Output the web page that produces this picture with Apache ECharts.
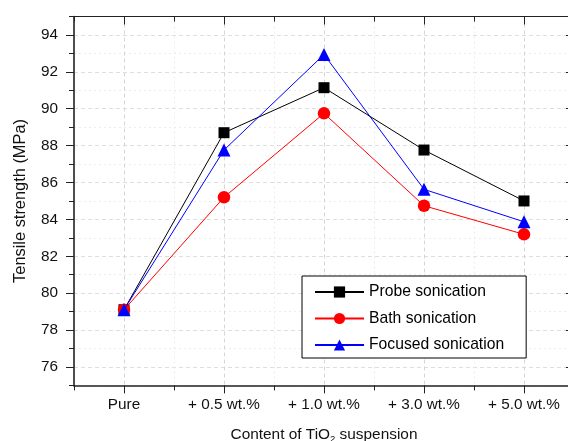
<!DOCTYPE html>
<html>
<head>
<meta charset="utf-8">
<script src="https://cdn.jsdelivr.net/npm/echarts@6/dist/echarts.min.js"></script>
<style>
  html, body { margin: 0; padding: 0; background: #fff; }
  #main { width: 568px; height: 441px; }
</style>
</head>
<body>
<div id="main"></div>
<script>
// data
const categories = ['Pure', '+ 0.5 wt.%', '+ 1.0 wt.%', '+ 3.0 wt.%', '+ 5.0 wt.%'];
const xPos = [1, 2, 3, 4, 5];
const probe = [79.1, 88.7, 91.14, 87.76, 85.0];
const bath = [79.1, 85.2, 89.75, 84.74, 83.19];
const focused = [79.1, 87.76, 92.94, 85.63, 83.87];
const yLabels = [76, 78, 80, 82, 84, 86, 88, 90, 92, 94];

const font = 'Liberation Sans, Arial, sans-serif';
const axisColor = '#222';

const pairs = (vals) => xPos.map((x, i) => [x, vals[i]]);

const chart = echarts.init(document.getElementById('main'));

const option = {
  animation: false,
  backgroundColor: '#fff',
  textStyle: { fontFamily: font },
  grid: { left: 74, right: -6, top: 16.5, bottom: 55.6, outerBoundsMode: 'none', containLabel: false },
  legend: {
    orient: 'vertical',
    left: 302,
    top: 276,
    itemWidth: 49,
    itemHeight: 14,
    itemGap: 8.5,
    padding: [7, 22, 4, 12],
    borderColor: '#000',
    borderWidth: 1,
    backgroundColor: '#fff',
    textStyle: { fontFamily: font, fontSize: 15.7, color: '#000', lineHeight: 18 },
    data: ['Probe sonication', 'Bath sonication', 'Focused sonication']
  },
  xAxis: [
    {
      type: 'value',
      position: 'bottom',
      min: 0.5,
      max: 5.5,
      interval: 1,
      axisLine: { show: true, lineStyle: { color: axisColor, width: 1.6 } },
      axisTick: { show: true, length: 5, lineStyle: { color: axisColor, width: 1 } },
      minorTick: { show: true, splitNumber: 2, length: 8, lineStyle: { color: axisColor, width: 1 } },
      axisLabel: {
        customValues: xPos,
        formatter: (v) => categories[Math.round(v) - 1],
        margin: 12,
        fontSize: 15.3,
        color: '#111',
        fontFamily: font
      },
      splitLine: { show: true, lineStyle: { color: '#ececec', type: [2, 3], width: 1 } },
      minorSplitLine: { show: true, lineStyle: { color: '#d6d6d6', type: [4, 3], width: 1 } },
      name: 'Content of TiO{sub|2} suspension',
      nameLocation: 'middle',
      nameGap: 40,
      nameTextStyle: {
        fontFamily: font,
        fontSize: 15.4,
        color: '#111',
        rich: { sub: { fontSize: 9.5, fontFamily: font, color: '#111', padding: [9, 0, 0, 0] } }
      }
    },
    {
      type: 'value',
      position: 'top',
      min: 0.5,
      max: 5.5,
      interval: 1,
      axisLine: { show: true, lineStyle: { color: axisColor, width: 1.2 } },
      axisTick: { show: true, inside: true, length: 5, lineStyle: { color: axisColor, width: 1 } },
      minorTick: { show: true, splitNumber: 2, length: 8, lineStyle: { color: axisColor, width: 1 } },
      axisLabel: { show: false },
      splitLine: { show: false }
    }
  ],
  yAxis: [
    {
      type: 'value',
      position: 'left',
      min: 75,
      max: 95,
      interval: 2,
      axisLine: { show: true, lineStyle: { color: axisColor, width: 1.6 } },
      axisTick: { show: true, length: 5, lineStyle: { color: axisColor, width: 1 } },
      minorTick: { show: true, splitNumber: 2, length: 8, lineStyle: { color: axisColor, width: 1 } },
      axisLabel: {
        customValues: yLabels,
        margin: 16,
        fontSize: 15.3,
        color: '#111',
        fontFamily: font
      },
      splitLine: { show: true, lineStyle: { color: '#ececec', type: [2, 3], width: 1 } },
      minorSplitLine: { show: true, lineStyle: { color: '#dedede', type: [4, 3], width: 1 } },
      name: 'Tensile strength (MPa)',
      nameLocation: 'middle',
      nameRotate: 90,
      nameGap: 46,
      nameTextStyle: { fontFamily: font, fontSize: 16.4, color: '#111' }
    },
    {
      type: 'value',
      position: 'right',
      min: 75,
      max: 95,
      interval: 2,
      axisLine: { show: true, lineStyle: { color: axisColor, width: 1.2 } },
      axisTick: { show: true, inside: true, length: 8, customValues: yLabels, lineStyle: { color: axisColor, width: 1 } },
      axisLabel: { show: false },
      splitLine: { show: false }
    }
  ],
  series: [
    {
      name: 'Probe sonication',
      type: 'line',
      data: pairs(probe),
      symbol: 'rect',
      symbolSize: 11,
      itemStyle: { color: '#000' },
      lineStyle: { color: '#000', width: 1 },
      z: 3
    },
    {
      name: 'Bath sonication',
      type: 'line',
      data: pairs(bath),
      symbol: 'circle',
      symbolSize: 12.5,
      itemStyle: { color: '#ff0000' },
      lineStyle: { color: '#ff0000', width: 1 },
      z: 4
    },
    {
      name: 'Focused sonication',
      type: 'line',
      data: pairs(focused),
      symbol: 'triangle',
      symbolSize: 13,
      itemStyle: { color: '#0000ff' },
      lineStyle: { color: '#0000ff', width: 1 },
      z: 5
    }
  ]
};

chart.setOption(option);
</script>
</body>
</html>
